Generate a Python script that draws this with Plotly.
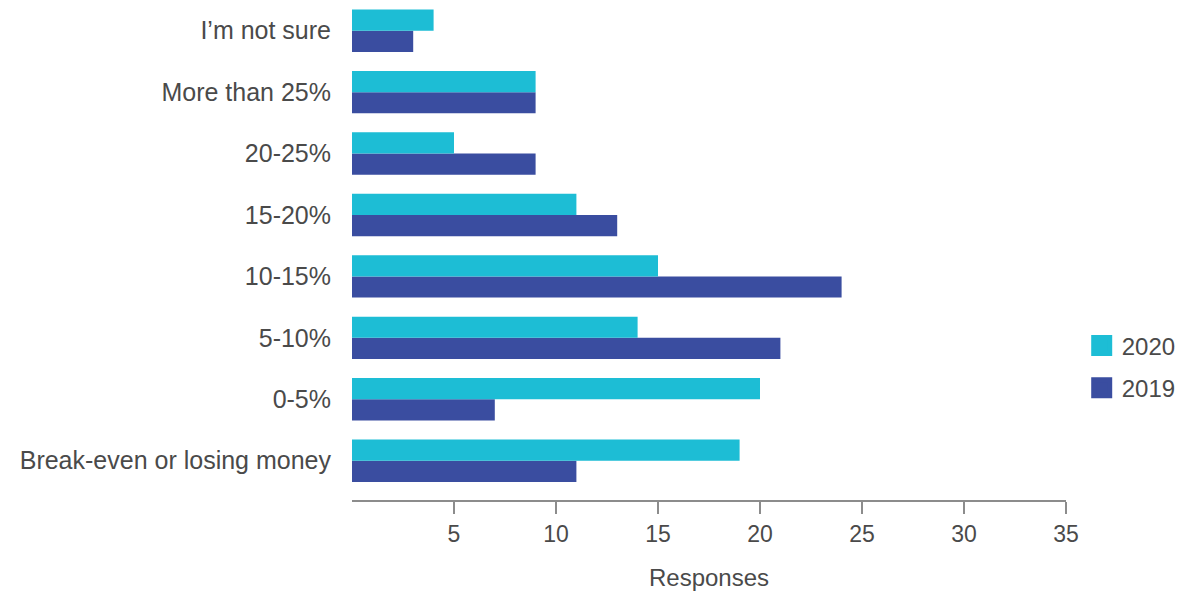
import plotly.graph_objects as go

# Survey responses by profit-margin bracket
categories = [
    "Break-even or losing money",
    "0-5%",
    "5-10%",
    "10-15%",
    "15-20%",
    "20-25%",
    "More than 25%",
    "I\u2019m not sure",
]
responses_2020 = [19, 20, 14, 15, 11, 5, 9, 4]
responses_2019 = [11, 7, 21, 24, 13, 9, 9, 3]
x_ticks = [5, 10, 15, 20, 25, 30, 35]

CYAN = "#1DBDD5"
NAVY = "#3A4DA0"
TEXT = "#4A4A4A"
FONT = "Liberation Sans, Arial, sans-serif"

fig = go.Figure()

# 2019 first so it sits below 2020 within each group
fig.add_trace(go.Bar(y=categories, x=responses_2019, orientation="h",
                     marker=dict(color=NAVY, line=dict(width=0)),
                     name="2019", showlegend=False))
fig.add_trace(go.Bar(y=categories, x=responses_2020, orientation="h",
                     marker=dict(color=CYAN, line=dict(width=0)),
                     name="2020", showlegend=False))

# square legend swatches
for name, color in (("2020", CYAN), ("2019", NAVY)):
    fig.add_trace(go.Scatter(x=[None], y=[None], mode="markers", name=name,
                             legendgroup=name,
                             marker=dict(symbol="square", size=22, color=color,
                                         line=dict(color=color, width=5))))

fig.update_layout(
    width=1184, height=591,
    margin=dict(l=352, r=118, t=0, b=91),
    paper_bgcolor="white", plot_bgcolor="white",
    barmode="group", bargap=0.31, bargroupgap=0,
    font=dict(family=FONT, size=25, color=TEXT),
    legend=dict(x=1.022, xanchor="left", y=0.266, yanchor="middle",
                font=dict(size=24, color=TEXT), itemwidth=30,
                traceorder="grouped", tracegroupgap=8,
                bgcolor="rgba(0,0,0,0)"),
    showlegend=True,
)

fig.update_xaxes(
    range=[0, 35], tickvals=x_ticks, ticktext=[str(v) for v in x_ticks],
    showgrid=False, zeroline=False,
    showline=True, linecolor="#8C8C8C", linewidth=2,
    ticks="outside", ticklen=12, tickwidth=1.5, tickcolor="#8C8C8C",
    tickfont=dict(size=23, color=TEXT),
    title=dict(text="Responses", font=dict(size=24, color=TEXT), standoff=26),
)
fig.update_yaxes(
    type="category", categoryorder="array", categoryarray=categories,
    range=[-0.64, 7.5], showgrid=False, zeroline=False, showline=False,
    ticks="", ticklabelstandoff=20,
    tickfont=dict(size=25, color=TEXT),
)

fig.write_html("out.html")
